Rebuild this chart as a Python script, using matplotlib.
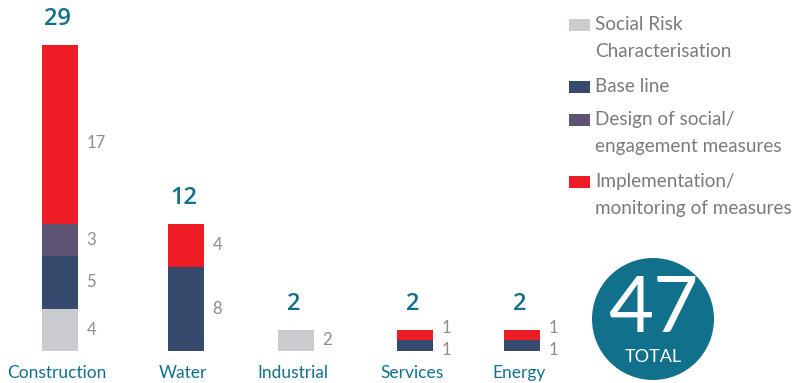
import matplotlib
matplotlib.use("Agg")
import matplotlib.pyplot as plt
from matplotlib.patches import Ellipse, Rectangle

# ---- data ----
categories = ["Construction", "Water", "Industrial", "Services", "Energy"]
series_names = ["Social Risk\nCharacterisation", "Base line",
                "Design of social/\nengagement measures",
                "Implementation/\nmonitoring of measures"]
social_risk = [4, 0, 2, 0, 0]
base_line = [5, 8, 0, 1, 1]
design = [3, 0, 0, 0, 0]
implementation = [17, 4, 0, 1, 1]
grand_total = 47
total_label = "TOTAL"

# ---- style / layout ----
colors = ["#C9CBCE", "#364A6E", "#5E5273", "#EE1C25"]
teal = "#11718C"
gray_txt = "#8C8C8C"
FONT = "Lato"
W, H = 797, 383
x_pos = [60, 186, 296, 415, 522]   # bar centres in pixel units
bar_w = 36

fig = plt.figure(figsize=(W / 100, H / 100), dpi=100)
ax = fig.add_axes([0, 32 / H, 1, 306 / H])
ax.set_xlim(0, W)
ax.set_ylim(0, 29)
ax.axis("off")

series = [social_risk, base_line, design, implementation]
bottoms = [0] * len(categories)
for vals, col in zip(series, colors):
    ax.bar(x_pos, vals, width=bar_w, bottom=bottoms, color=col, linewidth=0)
    bottoms = [b + v for b, v in zip(bottoms, vals)]

# value labels to the right of segments
for i in range(len(categories)):
    cum = 0
    nonzero = []
    for s in series:
        v = s[i]
        if v:
            nonzero.append((v, cum))
        cum += v
    small = all(v == 1 for v, _ in nonzero) and len(nonzero) > 1
    for k, (v, b) in enumerate(nonzero):
        y = b + v / 2
        dy = 0
        if small:
            dy = -3 if k == 0 else 5
        elif v > 10:
            dy = -6
        ax.annotate(str(v), (x_pos[i] + bar_w / 2, y), xytext=(6, dy),
                    textcoords="offset points", ha="left", va="center",
                    fontsize=12, color=gray_txt, family=FONT)
    # totals
    ax.annotate(str(bottoms[i]), (x_pos[i], bottoms[i]), xytext=(-2, 10),
                textcoords="offset points", ha="center", va="bottom",
                fontsize=17, color=teal, family="Open Sans", fontweight=600,
                annotation_clip=False)
    # category labels
    ax.annotate(categories[i], (x_pos[i], 0), xytext=(-2, -10),
                textcoords="offset points", ha="center", va="top",
                fontsize=12.5, color=teal, family=FONT, annotation_clip=False)

# legend
leg_base = [30, 92, 125, 187]
for (name, col, yb) in zip(series_names, colors, leg_base):
    fig.add_artist(Rectangle((569 / W, 1 - (yb + 1) / H), 21 / W, 12 / H,
                             transform=fig.transFigure, color=col, lw=0))
    for k, line in enumerate(name.split("\n")):
        fig.text(595 / W, 1 - (yb + 27 * k) / H, line, ha="left",
                 va="baseline", fontsize=13.6, color="#7A7B7E", family=FONT)

# total circle
cx, cy, r = 653, 319, 61
fig.add_artist(Ellipse((cx / W, 1 - cy / H), 2 * r / W, 2 * r / H,
                       transform=fig.transFigure, color=teal, lw=0))
fig.text(cx / W, 1 - 332 / H, str(grand_total), ha="center", va="baseline",
         fontsize=56, color="white", family=FONT)
fig.text(cx / W, 1 - 362 / H, total_label, ha="center", va="baseline",
         fontsize=13, color="white", family=FONT)

fig.savefig("out.png", dpi=100)
